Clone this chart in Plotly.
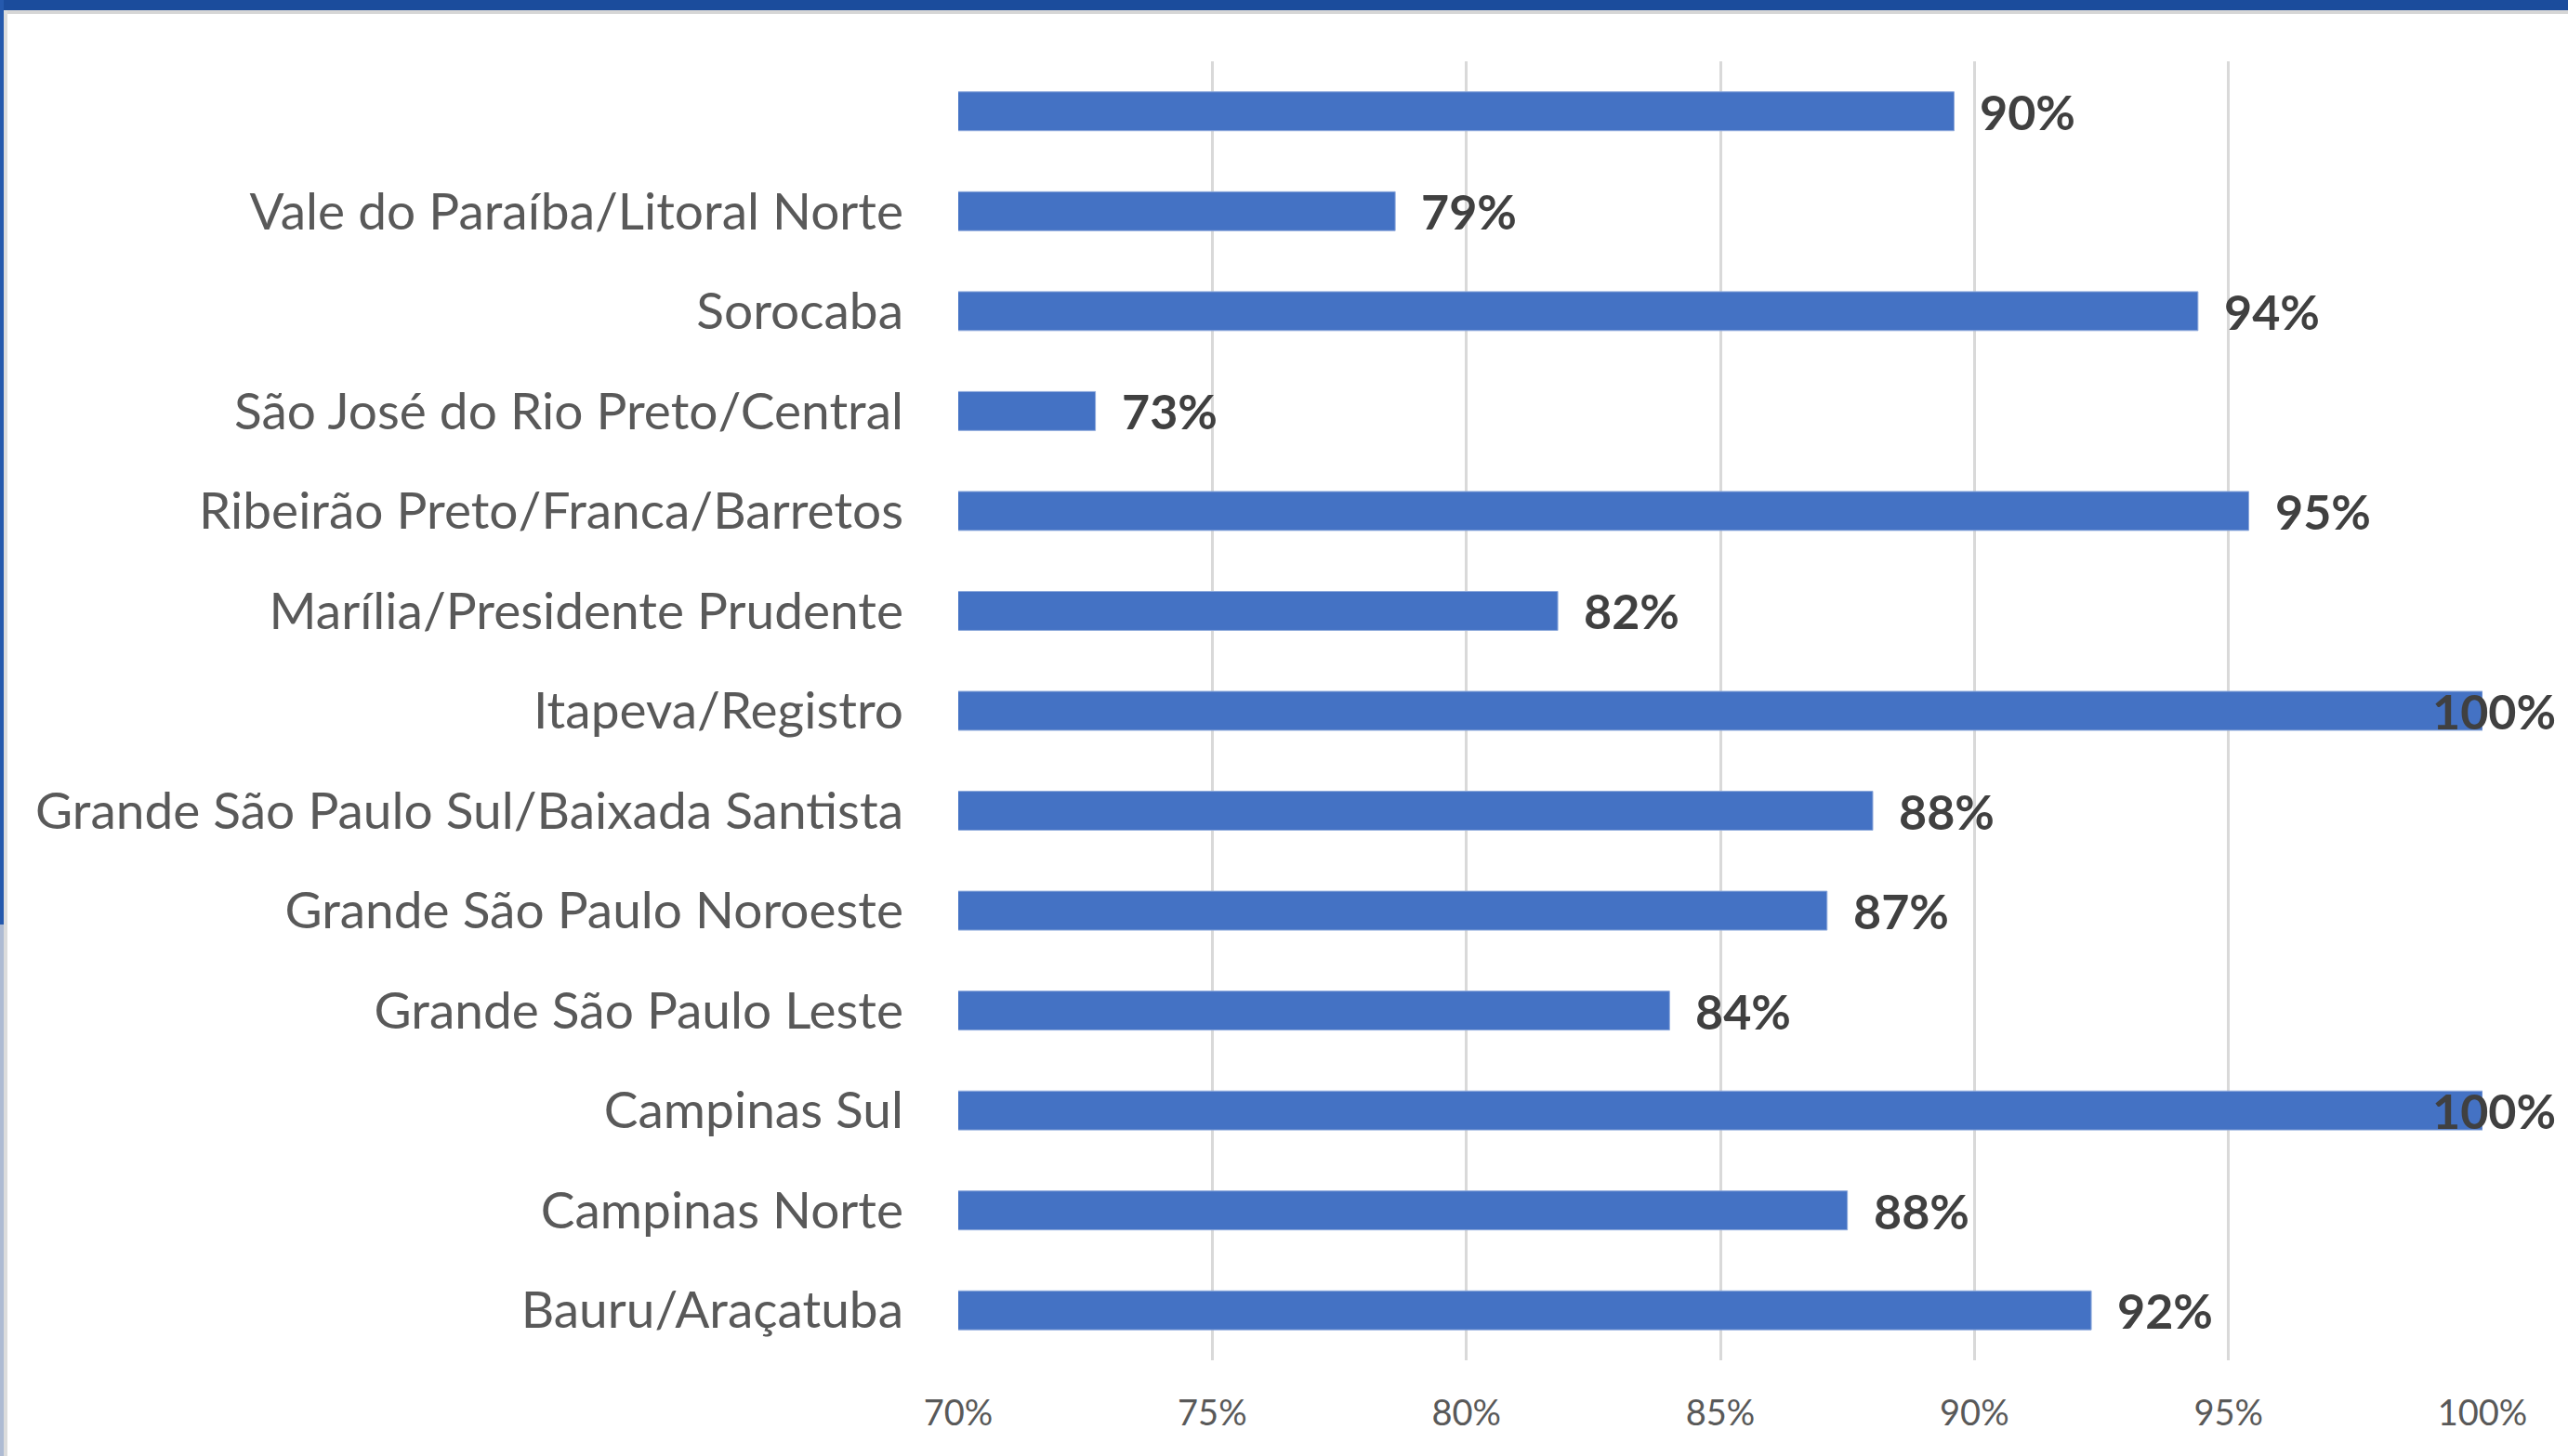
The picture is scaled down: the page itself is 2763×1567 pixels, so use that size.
import plotly.graph_objects as go

# Data (bottom to top, as drawn)
categories = [
    "Bauru/Araçatuba",
    "Campinas Norte",
    "Campinas Sul",
    "Grande São Paulo Leste",
    "Grande São Paulo Noroeste",
    "Grande São Paulo Sul/Baixada Santista",
    "Itapeva/Registro",
    "Marília/Presidente Prudente",
    "Ribeirão Preto/Franca/Barretos",
    "São José do Rio Preto/Central",
    "Sorocaba",
    "Vale do Paraíba/Litoral Norte",
    "",
]
values = [0.923, 0.875, 1.0, 0.840, 0.871, 0.880, 1.0, 0.818, 0.954, 0.727, 0.944, 0.786, 0.896]
x_ticks = [0.70, 0.75, 0.80, 0.85, 0.90, 0.95, 1.00]
x_tick_labels = ["70%", "75%", "80%", "85%", "90%", "95%", "100%"]

W, H = 2763, 1567
L, R, T, B = 1031, 92, 66, 103
PW, PH = W - L - R, H - T - B

positions = list(range(len(categories)))

fig = go.Figure()
fig.add_trace(go.Bar(
    x=values,
    y=positions,
    orientation="h",
    marker=dict(color="#4472C4", line=dict(color="#8FAADC", width=1)),
    hoverinfo="x+y",
))

XMIN, XMAX = 0.70, 1.00
label_cap = 0.985
annotations = []
for p, v in zip(positions, values):
    annotations.append(dict(
        x=min(v, label_cap), y=p, xref="x", yref="y",
        text=f"{v*100:.0f}%", showarrow=False,
        xanchor="left", yanchor="middle", xshift=26,
        font=dict(family="Lato, Carlito, Noto Sans", size=52, color="#404040", weight="bold"),
    ))


def px_x(px):
    return (px - L) / PW


def px_y(py):
    return (H - B - py) / PH


shapes = [
    # top blue band
    dict(type="rect", xref="paper", yref="paper", x0=px_x(0), x1=px_x(W), y0=px_y(0), y1=px_y(11),
         fillcolor="#1B4C9C", line=dict(width=0), layer="above"),
    dict(type="rect", xref="paper", yref="paper", x0=px_x(0), x1=px_x(W), y0=px_y(11), y1=px_y(15),
         fillcolor="#D6D6D6", line=dict(width=0), layer="above"),
    # left strip
    dict(type="rect", xref="paper", yref="paper", x0=px_x(0), x1=px_x(4), y0=px_y(0), y1=px_y(995),
         fillcolor="#2559AD", line=dict(width=0), layer="above"),
    dict(type="rect", xref="paper", yref="paper", x0=px_x(0), x1=px_x(4), y0=px_y(995), y1=px_y(H),
         fillcolor="#AEBBD3", line=dict(width=0), layer="above"),
    dict(type="rect", xref="paper", yref="paper", x0=px_x(4), x1=px_x(8), y0=px_y(11), y1=px_y(H),
         fillcolor="#DCDCDC", line=dict(width=0), layer="above"),
]

fig.update_layout(
    width=W, height=H,
    margin=dict(l=L, r=R, t=T, b=B, pad=0),
    paper_bgcolor="white", plot_bgcolor="white",
    bargap=0.61,
    showlegend=False,
    annotations=annotations,
    shapes=shapes,
    xaxis=dict(
        range=[XMIN, XMAX],
        tickvals=x_ticks, ticktext=x_tick_labels,
        showgrid=True, gridcolor="#D9D9D9", gridwidth=3,
        zeroline=False, showline=False, ticks="",
        tickfont=dict(family="Lato, Carlito, Noto Sans", size=38, color="#595959"),
        ticklabelstandoff=31,
    ),
    yaxis=dict(
        range=[-0.5, len(categories) - 0.5],
        tickvals=positions, ticktext=categories,
        showgrid=False, zeroline=False, showline=False, ticks="",
        tickfont=dict(family="Lato, Carlito, Noto Sans", size=55, color="#595959"),
        ticklabelstandoff=58,
    ),
)

fig.write_html(
    "out.html",
    config={"displayModeBar": False},
    post_script="document.body.style.margin='0';document.body.style.overflow='hidden';",
)
